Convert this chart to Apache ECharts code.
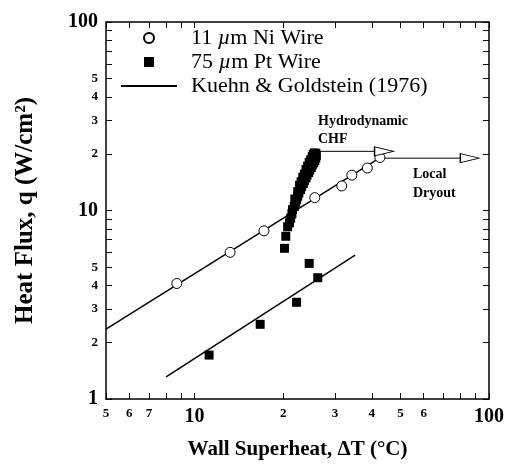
<!DOCTYPE html>
<html>
<head>
<meta charset="utf-8">
<script src="https://cdn.jsdelivr.net/npm/echarts@6/dist/echarts.min.js"></script>
<style>
  html, body { margin: 0; padding: 0; background: #fff; }
  #main { width: 513px; height: 465px; }
</style>
</head>
<body>
<div id="main"></div>
<script>
// wall superheat (C) vs heat flux (W/cm2)
var niWire = [
  [8.7, 4.1], [13.2, 6.0], [17.2, 7.8], [25.6, 11.7],
  [31.6, 13.5], [34.2, 15.4], [38.6, 16.8], [42.6, 19.1]
];
var ptWire = [
  [11.2, 1.71], [16.7, 2.49], [22.2, 3.26], [26.2, 4.4], [24.5, 5.24],
  [20.2, 6.3], [20.4, 7.3], [20.7, 8.2],
  // dense run of points up to CHF
  [21.0, 8.6], [21.2, 9.1], [21.4, 9.6], [21.5, 10.1], [21.8, 10.5],
  [22.0, 11.0], [22.2, 11.4], [22.4, 11.9], [22.6, 12.4], [22.9, 12.9],
  [23.1, 13.4], [23.4, 13.9], [23.6, 14.4], [23.9, 14.9], [24.1, 15.4],
  [24.4, 15.9], [24.6, 16.4], [24.9, 16.9], [25.1, 17.4], [25.4, 17.9],
  [25.6, 18.4], [25.8, 19.0], [25.9, 19.6], [25.8, 20.1],
  [21.9, 11.5], [22.4, 12.6], [22.7, 13.6], [23.0, 14.2], [23.3, 15.0],
  [23.6, 15.6], [23.9, 16.5], [24.2, 17.2], [24.5, 18.0], [24.8, 18.6],
  [25.1, 19.3], [25.3, 19.8], [25.5, 20.2]
];
var kgUpper = [[5, 2.35], [43.6, 19.5]];
var kgLower = [[8.0, 1.31], [35.1, 5.79]];

// annotation arrows
var chfShaft = [[26.3, 20.6], [41.0, 20.6]];
var dryShaft = [[43.6, 18.95], [79.7, 18.95]];
var arrowHeads = [[44.0, 20.6], [86.1, 18.95]];

var xTicks = [5, 6, 7, 8, 9, 10, 20, 30, 40, 50, 60, 70, 80, 90, 100];
var yTicks = [1, 2, 3, 4, 5, 6, 7, 8, 9, 10, 20, 30, 40, 50, 60, 70, 80, 90, 100];
var xTickLabels = [5, 6, 7, 10, 20, 30, 40, 50, 60, 100];
var yTickLabels = [1, 2, 3, 4, 5, 10, 20, 30, 40, 50, 100];

var legendNames = ['11 µm Ni Wire', '75 µm Pt Wire', 'Kuehn & Goldstein (1976)'];

var FONT = '"Liberation Serif", "DejaVu Serif", serif';

function tickFmt(v) {
  var r = Math.round(v);
  if (r === 1 || r === 10 || r === 100) return '{b|' + r + '}';
  return '{s|' + (r >= 10 ? Math.round(r / 10) : r) + '}';
}

var labelRich = {
  b: { fontFamily: FONT, fontSize: 20, fontWeight: 'bold', color: '#000' },
  s: { fontFamily: FONT, fontSize: 13, fontWeight: 'bold', color: '#000' }
};

var axisLine = { show: true, lineStyle: { color: '#000', width: 1.5 } };

function mkAxis(pos, ticks, labels, extra) {
  var a = {
    type: 'log',
    logBase: 10,
    position: pos,
    axisLine: axisLine,
    axisTick: { show: true, inside: true, length: 6, customValues: ticks, lineStyle: { color: '#000', width: 1 } },
    axisLabel: labels ? {
      show: true, customValues: labels, formatter: tickFmt, rich: labelRich, margin: 8
    } : { show: false },
    splitLine: { show: false },
    minorTick: { show: false }
  };
  for (var k in extra) a[k] = extra[k];
  return a;
}

var chart = echarts.init(document.getElementById('main'));

var option = {
  backgroundColor: '#fff',
  animation: false,
  grid: { left: 106, right: 24, top: 22, bottom: 61 },
  legend: {
    data: [
      { name: legendNames[0], icon: 'circle' },
      { name: legendNames[1], icon: 'path://M0,0 L10,0 L10,10 L0,10 Z' },
      { name: legendNames[2], icon: 'path://M0,0 L56,0 L56,2 L0,2 Z' }
    ],
    orient: 'vertical',
    left: 116,
    top: 22,
    itemWidth: 56,
    itemHeight: 10,
    itemGap: 2,
    symbolKeepAspect: true,
    textStyle: {
      fontFamily: FONT, fontSize: 22, color: '#000', lineHeight: 20,
      padding: [0, 0, 0, 9],
      rich: { i: { fontFamily: FONT, fontSize: 22, fontStyle: 'italic', color: '#000', lineHeight: 20 } }
    },
    formatter: function (name) { return name.replace('µm', '{i|µ}m'); }
  },
  xAxis: [
    mkAxis('bottom', xTicks, xTickLabels, {
      min: 5, max: 100,
      name: 'Wall Superheat, ΔT (°C)',
      nameLocation: 'middle',
      nameGap: 40,
      nameTextStyle: { fontFamily: FONT, fontSize: 21, fontWeight: 'bold', color: '#000' }
    }),
    mkAxis('top', xTicks, null, { min: 5, max: 100 })
  ],
  yAxis: [
    mkAxis('left', yTicks, yTickLabels, {
      min: 1, max: 100,
      name: 'Heat Flux, q (W/cm²)',
      nameLocation: 'middle',
      nameGap: 68,
      nameTextStyle: { fontFamily: FONT, fontSize: 25, fontWeight: 'bold', color: '#000' }
    }),
    mkAxis('right', yTicks, null, { min: 1, max: 100 })
  ],
  graphic: [
    { type: 'text', left: 318, top: 114, style: { text: 'Hydrodynamic', font: 'bold 14px ' + FONT, fill: '#000' } },
    { type: 'text', left: 318, top: 132, style: { text: 'CHF', font: 'bold 14px ' + FONT, fill: '#000' } },
    { type: 'text', left: 413, top: 167, style: { text: 'Local', font: 'bold 14px ' + FONT, fill: '#000' } },
    { type: 'text', left: 413, top: 186, style: { text: 'Dryout', font: 'bold 14px ' + FONT, fill: '#000' } }
  ],
  series: [
    {
      name: 'Kuehn & Goldstein (1976)', type: 'line', data: kgUpper,
      symbol: 'none', lineStyle: { color: '#000', width: 1.5 }, itemStyle: { color: '#000' }, z: 2
    },
    {
      name: 'Kuehn & Goldstein (1976)', type: 'line', data: kgLower,
      symbol: 'none', lineStyle: { color: '#000', width: 1.5 }, itemStyle: { color: '#000' }, z: 2
    },
    {
      name: '11 µm Ni Wire', type: 'scatter', data: niWire, symbol: 'circle', symbolSize: 10,
      itemStyle: { color: '#fff', borderColor: '#000', borderWidth: 1, opacity: 1 }, z: 3
    },
    {
      name: '75 µm Pt Wire', type: 'scatter', data: ptWire, symbol: 'rect', symbolSize: 9,
      itemStyle: { color: '#000', opacity: 1 }, z: 4
    },
    {
      name: 'chfArrow', type: 'line', data: chfShaft, symbol: 'none',
      lineStyle: { color: '#000', width: 1 }, z: 2
    },
    {
      name: 'dryoutArrow', type: 'line', data: dryShaft, symbol: 'none',
      lineStyle: { color: '#000', width: 1 }, z: 2
    },
    {
      name: 'arrowHeads', type: 'scatter', data: arrowHeads, symbol: 'triangle',
      symbolSize: [9, 19], symbolRotate: -90,
      itemStyle: { color: '#fff', borderColor: '#000', borderWidth: 1, opacity: 1 }, z: 5
    }
  ]
};

chart.setOption(option);
</script>
</body>
</html>
